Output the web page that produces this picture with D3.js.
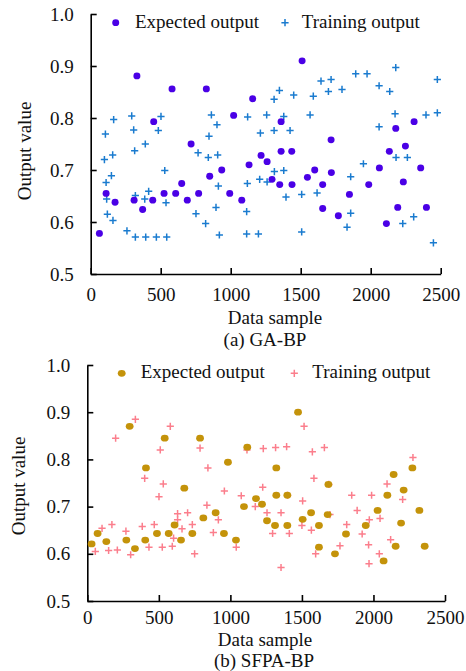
<!DOCTYPE html>
<html>
<head>
<meta charset="utf-8">
<script src="https://cdn.jsdelivr.net/npm/d3@7"></script>
<style>
  body { margin: 0; background: #fff; }
  svg { display: block; }
  svg text { font-family: "Liberation Serif", "Times New Roman", serif !important; }
</style>
</head>
<body>
<svg id="chart" width="466" height="671"></svg>
<script>
// (a) GA-BP
const gaExpected = [
  [62, .578], [110, .655], [174, .638], [310, .642], [330, .881], [371, .624], [443, .642],
  [450, .793], [524, .655], [581, .856], [607, .655], [650, .674], [690, .642], [717, .750],
  [771, .655], [826, .856], [850, .688], [936, .700], [993, .655], [1021, .805], [1079, .642],
  [1131, .710], [1157, .837], [1217, .728], [1260, .716], [1295, .682], [1350, .672], [1360, .793],
  [1360, .736], [1436, .736], [1438, .672], [1510, .910], [1548, .686], [1600, .700], [1657, .672],
  [1657, .626], [1717, .758], [1719, .695], [1769, .612], [1848, .653], [1986, .672], [2062, .704],
  [2112, .597], [2133, .736], [2179, .780], [2193, .628], [2233, .677], [2248, .746], [2310, .793],
  [2357, .704], [2398, .628]
];
const gaTraining = [
  [98, .720], [105, .769], [110, .676], [114, .644], [119, .615], [148, .689], [157, .729],
  [159, .603], [164, .797], [259, .583], [293, .804], [307, .777], [314, .737], [319, .571],
  [319, .651], [386, .644], [390, .750], [393, .571], [414, .659], [469, .571], [483, .776],
  [502, .803], [529, .699], [538, .637], [543, .571], [752, .616], [767, .733], [821, .597],
  [840, .724], [845, .765], [862, .806], [895, .628], [902, .787], [907, .729], [912, .669],
  [919, .575], [1114, .620], [1114, .577], [1119, .674], [1121, .802], [1198, .577], [1207, .682],
  [1212, .771], [1257, .806], [1260, .677], [1310, .836], [1310, .776], [1312, .697], [1348, .853],
  [1379, .803], [1379, .699], [1395, .648], [1424, .776], [1450, .844], [1507, .653], [1507, .581],
  [1567, .806], [1590, .842], [1617, .656], [1645, .871], [1698, .851], [1717, .874], [1795, .855],
  [1831, .590], [1857, .687], [1857, .617], [1893, .885], [1948, .712], [1974, .885], [2060, .862],
  [2060, .783], [2136, .851], [2174, .808], [2179, .897], [2181, .724], [2229, .597], [2262, .724],
  [2307, .610], [2395, .806], [2448, .560], [2476, .810], [2476, .874]
];

// (b) SFPA-BP
const sfpaExpected = [
  [30, .621], [72, .643], [133, .626], [273, .629], [296, .870], [333, .611], [405, .629],
  [410, .782], [487, .643], [541, .845], [569, .643], [610, .661], [655, .629], [678, .739],
  [734, .643], [788, .845], [811, .676], [897, .687], [955, .643], [983, .794], [1039, .629],
  [1095, .700], [1118, .826], [1179, .717], [1221, .705], [1256, .670], [1312, .660], [1321, .782],
  [1321, .724], [1398, .724], [1398, .660], [1473, .900], [1505, .673], [1564, .687], [1619, .660],
  [1619, .614], [1680, .683], [1685, .747], [1731, .600], [1808, .642], [1946, .660], [2029, .692],
  [2071, .585], [2097, .724], [2141, .768], [2155, .616], [2193, .665], [2211, .735], [2272, .782],
  [2321, .692], [2358, .616]
];
const sfpaTraining = [
  [56, .605], [103, .654], [149, .607], [172, .662], [198, .845], [210, .608], [270, .648],
  [303, .598], [336, .885], [384, .658], [401, .760], [431, .614], [468, .662], [501, .721],
  [510, .820], [524, .614], [531, .748], [580, .870], [594, .616], [603, .633], [631, .672],
  [631, .685], [662, .653], [701, .687], [734, .662], [750, .600], [788, .824], [836, .703],
  [843, .782], [881, .645], [916, .672], [958, .733], [1041, .614], [1076, .723], [1116, .820],
  [1174, .700], [1226, .741], [1230, .823], [1256, .687], [1295, .643], [1316, .825], [1354, .687],
  [1354, .571], [1393, .827], [1400, .724], [1412, .643], [1500, .660], [1505, .712], [1515, .870],
  [1566, .650], [1573, .816], [1584, .760], [1596, .600], [1657, .825], [1688, .747], [1696, .683],
  [1766, .617], [1813, .662], [1848, .724], [1886, .692], [1921, .642], [1966, .619], [1969, .579],
  [1971, .672], [1987, .724], [2041, .600], [2046, .675], [2095, .748], [2120, .630], [2204, .715],
  [2276, .804]
];

const xTicks = [0, 500, 1000, 1500, 2000, 2500];
const yTicks = [0.5, 0.6, 0.7, 0.8, 0.9, 1.0];
const legendLabels = ['Expected output', 'Training output'];

const svg = d3.select('#chart');
const FS = 19;
const SERIF = '"Liberation Serif", "Times New Roman", serif';

function drawPanel(p) {
  const x = d3.scaleLinear().domain([0, 2500]).range([p.left, p.right]);
  const y = d3.scaleLinear().domain([0.5, 1.0]).range([p.bottom, p.top]);
  const g = svg.append('g');

  const xAxis = g.append('g').attr('transform', `translate(0,${p.bottom})`)
    .call(d3.axisBottom(x).tickValues(xTicks).tickFormat(d3.format('d'))
      .tickSize(-6).tickSizeOuter(0).tickPadding(p.xPad));
  const yAxis = g.append('g').attr('transform', `translate(${p.left},0)`)
    .call(d3.axisLeft(y).tickValues(yTicks).tickFormat(d3.format('.1f'))
      .tickSize(-6).tickSizeOuter(0).tickPadding(17));
  [xAxis, yAxis].forEach(a => {
    a.attr('font-family', SERIF).attr('font-size', FS);
    a.selectAll('path, line').attr('stroke', '#000').attr('stroke-width', 1.6);
    a.selectAll('text').attr('fill', '#111');
  });

  // training output (+)
  g.selectAll(null).data(p.training).enter().append('path')
    .attr('d', d => {
      const cx = x(d[0]), cy = y(d[1]), s = 3.6;
      return `M${cx - s},${cy}H${cx + s}M${cx},${cy - s}V${cy + s}`;
    })
    .attr('stroke', p.plusColor).attr('stroke-width', 1.5).attr('fill', 'none');

  // expected output (dots)
  g.selectAll(null).data(p.expected).enter().append('ellipse')
    .attr('cx', d => x(d[0])).attr('cy', d => y(d[1]))
    .attr('rx', p.rx).attr('ry', 3.4).attr('fill', p.dotColor);

  // legend
  g.append('ellipse').attr('cx', p.leg[0]).attr('cy', p.leg[1] - 5)
    .attr('rx', p.rx).attr('ry', 3.4).attr('fill', p.dotColor);
  g.append('text').attr('x', p.leg[2]).attr('y', p.leg[1])
    .attr('font-size', FS).attr('fill', '#111').text(legendLabels[0]);
  const px = p.leg[3], py = p.leg[1] - 5, s = 3.6;
  g.append('path').attr('d', `M${px - s},${py}H${px + s}M${px},${py - s}V${py + s}`)
    .attr('stroke', p.plusColor).attr('stroke-width', 1.5);
  g.append('text').attr('x', p.leg[4]).attr('y', p.leg[1])
    .attr('font-size', FS).attr('fill', '#111').text(legendLabels[1]);

  // axis titles
  g.append('text').attr('x', p.xTitle[0]).attr('y', p.xTitle[1])
    .attr('text-anchor', 'middle').attr('font-size', FS).attr('fill', '#111').text('Data sample');
  g.append('text').attr('transform', `translate(${p.yTitle[0]},${p.yTitle[1]}) rotate(-90)`)
    .attr('text-anchor', 'middle').attr('font-size', FS).attr('fill', '#111').text('Output value');
  g.append('text').attr('x', p.caption[0]).attr('y', p.caption[1])
    .attr('text-anchor', 'middle').attr('font-size', FS).attr('fill', '#111').text(p.captionText);
}

drawPanel({
  left: 90.7, right: 440.7, top: 14, bottom: 274, xPad: 14,
  expected: gaExpected, training: gaTraining,
  dotColor: '#4a00e6', plusColor: '#1a7bcf', rx: 3.5,
  leg: [115.7, 27.7, 135, 285, 301.7],
  xTitle: [275, 323.5], yTitle: [31, 151], caption: [265, 346], captionText: '(a) GA-BP'
});

drawPanel({
  left: 87.3, right: 445, top: 365, bottom: 601, xPad: 9.5,
  expected: sfpaExpected, training: sfpaTraining,
  dotColor: '#c4930a', plusColor: '#fb7e8c', rx: 3.9,
  leg: [121.7, 378.3, 140.7, 294.3, 312.3],
  xTitle: [265, 645.5], yTitle: [25, 486], caption: [264, 666.5], captionText: '(b) SFPA-BP'
});
</script>
</body>
</html>
